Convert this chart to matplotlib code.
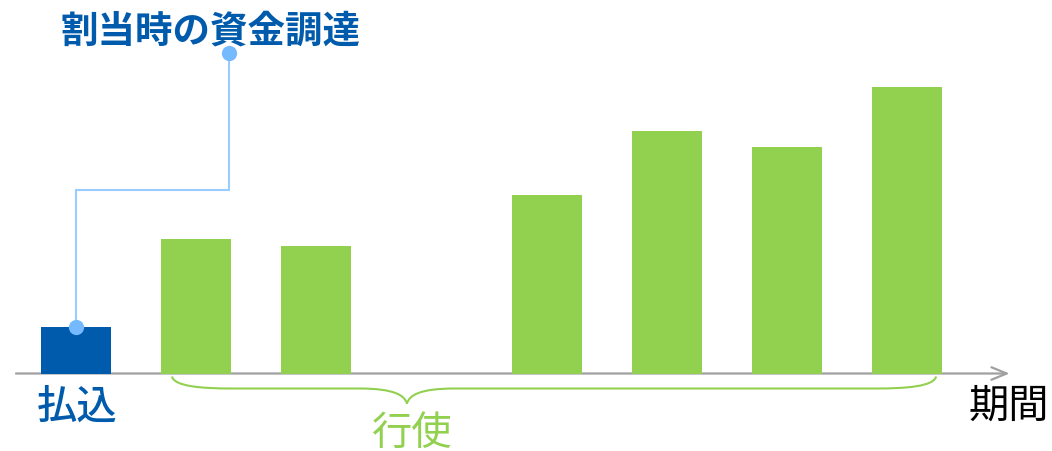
import matplotlib
matplotlib.use("Agg")
import matplotlib.pyplot as plt
from matplotlib.path import Path
from matplotlib.patches import PathPatch

plt.rcParams['font.family'] = ['Noto Sans CJK JP', 'DejaVu Sans']

# ---- data ----
categories = ["払込", "行使1", "行使2", "行使3", "行使4", "行使5", "行使6"]
positions = [0, 1, 2, 3.925, 4.925, 5.925, 6.925]
values = [47, 135, 128, 179, 243, 227, 287]
title_text = "割当時の資金調達"
pay_label = "払込"
exercise_label = "行使"
axis_label = "期間"

BLUE = "#005BAC"
GREEN = "#92D050"
LINE_BLUE = "#99CCFF"
DOT_BLUE = "#75B9FF"
GRAY = "#A0A0A0"

fig = plt.figure(figsize=(10.52, 4.52), dpi=100)
ax = fig.add_axes([0, 0, 1, 1])
ax.set_xlim(-0.633, 8.133)
ax.set_ylim(-77.5, 374.5)
ax.axis("off")

colors = [BLUE] + [GREEN] * (len(values) - 1)
ax.bar(positions, values, width=0.583, color=colors, zorder=2)

# axis arrow
ax.annotate("", xy=(7.78, 0), xytext=(-0.5, 0),
            arrowprops=dict(arrowstyle="->,head_length=1.1,head_width=0.45",
                            color=GRAY, lw=1.6, shrinkA=0, shrinkB=0),
            zorder=1)

# connector from the first bar to title
cx = 1.275
ax.plot([positions[0], positions[0], cx, cx], [values[0], 184, 184, 321],
        color=LINE_BLUE, lw=1.5, zorder=3, solid_joinstyle="miter")
ax.plot([positions[0], cx], [values[0], 321], "o", color=DOT_BLUE,
        markersize=11, zorder=4, markeredgewidth=0)

# brace under exercise bars
x0, x1, xc = 0.8, 7.167, 2.758
y0, yh, yc = -3, -15, -30
verts = [
    (x0, y0),
    (x0 + 0.02, yh + 2), (x0 + 0.25, yh), (x0 + 0.5, yh),
    (xc - 0.4, yh),
    (xc - 0.1, yh), (xc - 0.02, yc + 8), (xc, yc),
    (xc + 0.02, yc + 8), (xc + 0.1, yh), (xc + 0.4, yh),
    (x1 - 0.5, yh),
    (x1 - 0.25, yh), (x1 - 0.02, yh + 2), (x1, y0),
]
codes = [Path.MOVETO,
         Path.CURVE4, Path.CURVE4, Path.CURVE4,
         Path.LINETO,
         Path.CURVE4, Path.CURVE4, Path.CURVE4,
         Path.CURVE4, Path.CURVE4, Path.CURVE4,
         Path.LINETO,
         Path.CURVE4, Path.CURVE4, Path.CURVE4]
ax.add_patch(PathPatch(Path(verts, codes), facecolor="none",
                       edgecolor=GREEN, lw=1.5, zorder=2))

# texts
ax.text(1.117, 343, title_text, color=BLUE, fontsize=27, fontweight="bold",
        ha="center", va="center")
ax.text(0.008, -33, pay_label, color=BLUE, fontsize=29, fontweight="medium",
        ha="center", va="center")
ax.text(2.8, -59, exercise_label, color=GREEN, fontsize=29,
        ha="center", va="center")
ax.text(7.77, -32, axis_label, color="black", fontsize=29,
        ha="center", va="center")

fig.savefig("out.png", dpi=100)
